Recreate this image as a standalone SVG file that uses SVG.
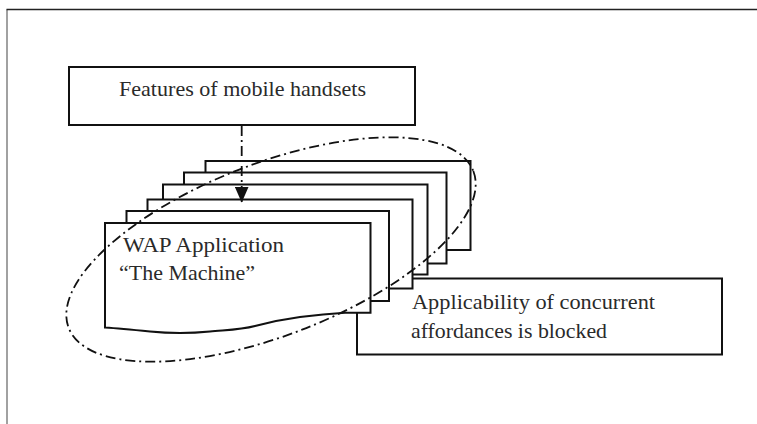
<svg xmlns="http://www.w3.org/2000/svg" width="757" height="424" viewBox="0 0 757 424">
<style>
  .box { fill: #ffffff; stroke: #111111; stroke-width: 2; }
  .lbl { font-family: "Liberation Serif", "Times New Roman", serif; font-size: 22px; fill: #2a2a2a; }
  .dd { fill: none; stroke: #111111; stroke-width: 1.8; stroke-dasharray: 10 4 2 4; }
</style>
<defs>
  <marker id="tri" viewBox="0 0 16 14" refX="16" refY="7" markerWidth="16" markerHeight="14" markerUnits="userSpaceOnUse" orient="auto">
    <path d="M0,0 L16,7 L0,14 Z" fill="#111111"/>
  </marker>
</defs>
<rect width="757" height="424" fill="#ffffff"/>
<path d="M7,424 V9.5" stroke="#8a8a8a" stroke-width="1.6" fill="none"/>
<path d="M6.5,9.5 H757" stroke="#222222" stroke-width="1.6" fill="none"/>

<g id="features">
  <rect class="box" x="69" y="67" width="346" height="58"/>
  <text class="lbl" x="119" y="96" textLength="247" lengthAdjust="spacingAndGlyphs">Features of mobile handsets</text>
</g>

<g id="applicability">
  <rect class="box" x="357" y="278.5" width="365" height="76"/>
  <text class="lbl" x="412" y="309" textLength="243" lengthAdjust="spacingAndGlyphs">Applicability of concurrent</text>
  <text class="lbl" x="411" y="338" textLength="196" lengthAdjust="spacingAndGlyphs">affordances is blocked</text>
</g>

<g id="stack">
  <rect class="box" x="205.5" y="161" width="265" height="89"/>
  <rect class="box" x="184" y="172.5" width="262.5" height="91"/>
  <rect class="box" x="163" y="184.5" width="264.5" height="90"/>
  <rect class="box" x="147.5" y="199.5" width="265" height="89"/>
  <rect class="box" x="126.5" y="211" width="262.5" height="90"/>
</g>

<g id="wap">
  <path class="box" d="M105,223 H370.5 V312.7 H345 C330,313.5 315,315 300,317 C285,319 270,322 255,326 C240,330 225,330 210,331.5 C190,333.5 170,333.5 150,331.5 C135,330 120,328.5 105,327.5 Z"/>
  <text class="lbl" x="123" y="252" textLength="161" lengthAdjust="spacingAndGlyphs">WAP Application</text>
  <text class="lbl" x="119" y="280" textLength="136" lengthAdjust="spacingAndGlyphs">“The Machine”</text>
</g>

<g id="connectors">
  <line class="dd" x1="241.7" y1="126" x2="241.7" y2="202.5" marker-end="url(#tri)"/>
</g>

<g id="scope">
  <ellipse class="dd" cx="271" cy="249.5" rx="217" ry="86" transform="rotate(-21.2 271 249.5)"/>
</g>
</svg>
